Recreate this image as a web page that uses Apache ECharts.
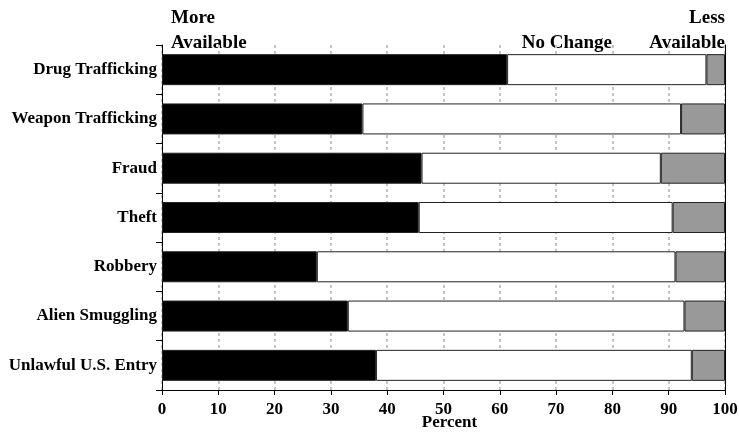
<!DOCTYPE html>
<html><head><meta charset="utf-8">
<script src="https://cdn.jsdelivr.net/npm/echarts@6/dist/echarts.min.js"></script>
<style>html,body{margin:0;padding:0;background:#fff}#c{width:739px;height:432px}</style>
</head><body><div id="c"></div>
<script>
const categories = ["Drug Trafficking","Weapon Trafficking","Fraud","Theft","Robbery","Alien Smuggling","Unlawful U.S. Entry"];
const moreAvailable = [61.3, 35.6, 46.1, 45.6, 27.5, 33.0, 38.0];
const noChange = [35.4, 56.6, 42.5, 45.1, 63.7, 59.8, 56.1];
const lessAvailable = [3.3, 7.8, 11.4, 9.3, 8.8, 7.2, 5.9];
const xTicks = [0,10,20,30,40,50,60,70,80,90,100];

const font = '"Liberation Serif", "Times New Roman", serif';
const chart = echarts.init(document.getElementById('c'));
const barStyle = (c) => ({color: c, borderColor: '#222', borderWidth: 1});
const hdr = (text, pos) => Object.assign({type: 'text', style: {text: text, fontFamily: font, fontWeight: 'bold', fontSize: 19, fill: '#000'}}, pos);
chart.setOption({
  animation: false,
  grid: {left: 162, right: 14, top: 45, bottom: 42, containLabel: false, outerBoundsMode: 'none'},
  xAxis: {
    type: 'value', min: xTicks[0], max: xTicks[xTicks.length-1], interval: 10,
    name: 'Percent', nameLocation: 'middle', nameGap: 24, nameMoveOverlap: false,
    nameTextStyle: {fontFamily: font, fontWeight: 'bold', fontSize: 17, color: '#000', padding: [0, 0, 0, 12]},
    axisLine: {show: true, lineStyle: {color: '#000', width: 1}},
    axisTick: {show: true, length: 5, lineStyle: {color: '#000'}},
    axisLabel: {fontFamily: font, fontWeight: 'bold', fontSize: 17, color: '#000', margin: 11},
    splitLine: {show: true, lineStyle: {color: '#c4c4c4', type: [3, 3], width: 2}}
  },
  yAxis: [{
    type: 'category', data: categories, inverse: true,
    axisLine: {show: true, lineStyle: {color: '#000', width: 1}},
    axisTick: {show: true, length: 6, lineStyle: {color: '#000'}},
    axisLabel: {fontFamily: font, fontWeight: 'bold', fontSize: 17, color: '#000', margin: 5}
  }, {
    type: 'category', data: categories, inverse: true, position: 'right',
    axisLine: {show: true, lineStyle: {color: '#000', width: 1}},
    axisTick: {show: false}, axisLabel: {show: false}
  }],
  series: [
    {name: 'More Available', type: 'bar', stack: 's', data: moreAvailable, barWidth: 31, itemStyle: barStyle('#000')},
    {name: 'No Change', type: 'bar', stack: 's', data: noChange, barWidth: 31, itemStyle: barStyle('#fff')},
    {name: 'Less Available', type: 'bar', stack: 's', data: lessAvailable, barWidth: 31, itemStyle: barStyle('#999')}
  ],
  graphic: [
    hdr('More', {left: 171, top: 9}),
    hdr('Available', {left: 171, top: 34}),
    hdr('No Change', {right: 127, top: 34}),
    hdr('Less', {right: 14, top: 9}),
    hdr('Available', {right: 14, top: 34})
  ]
});
</script></body></html>
